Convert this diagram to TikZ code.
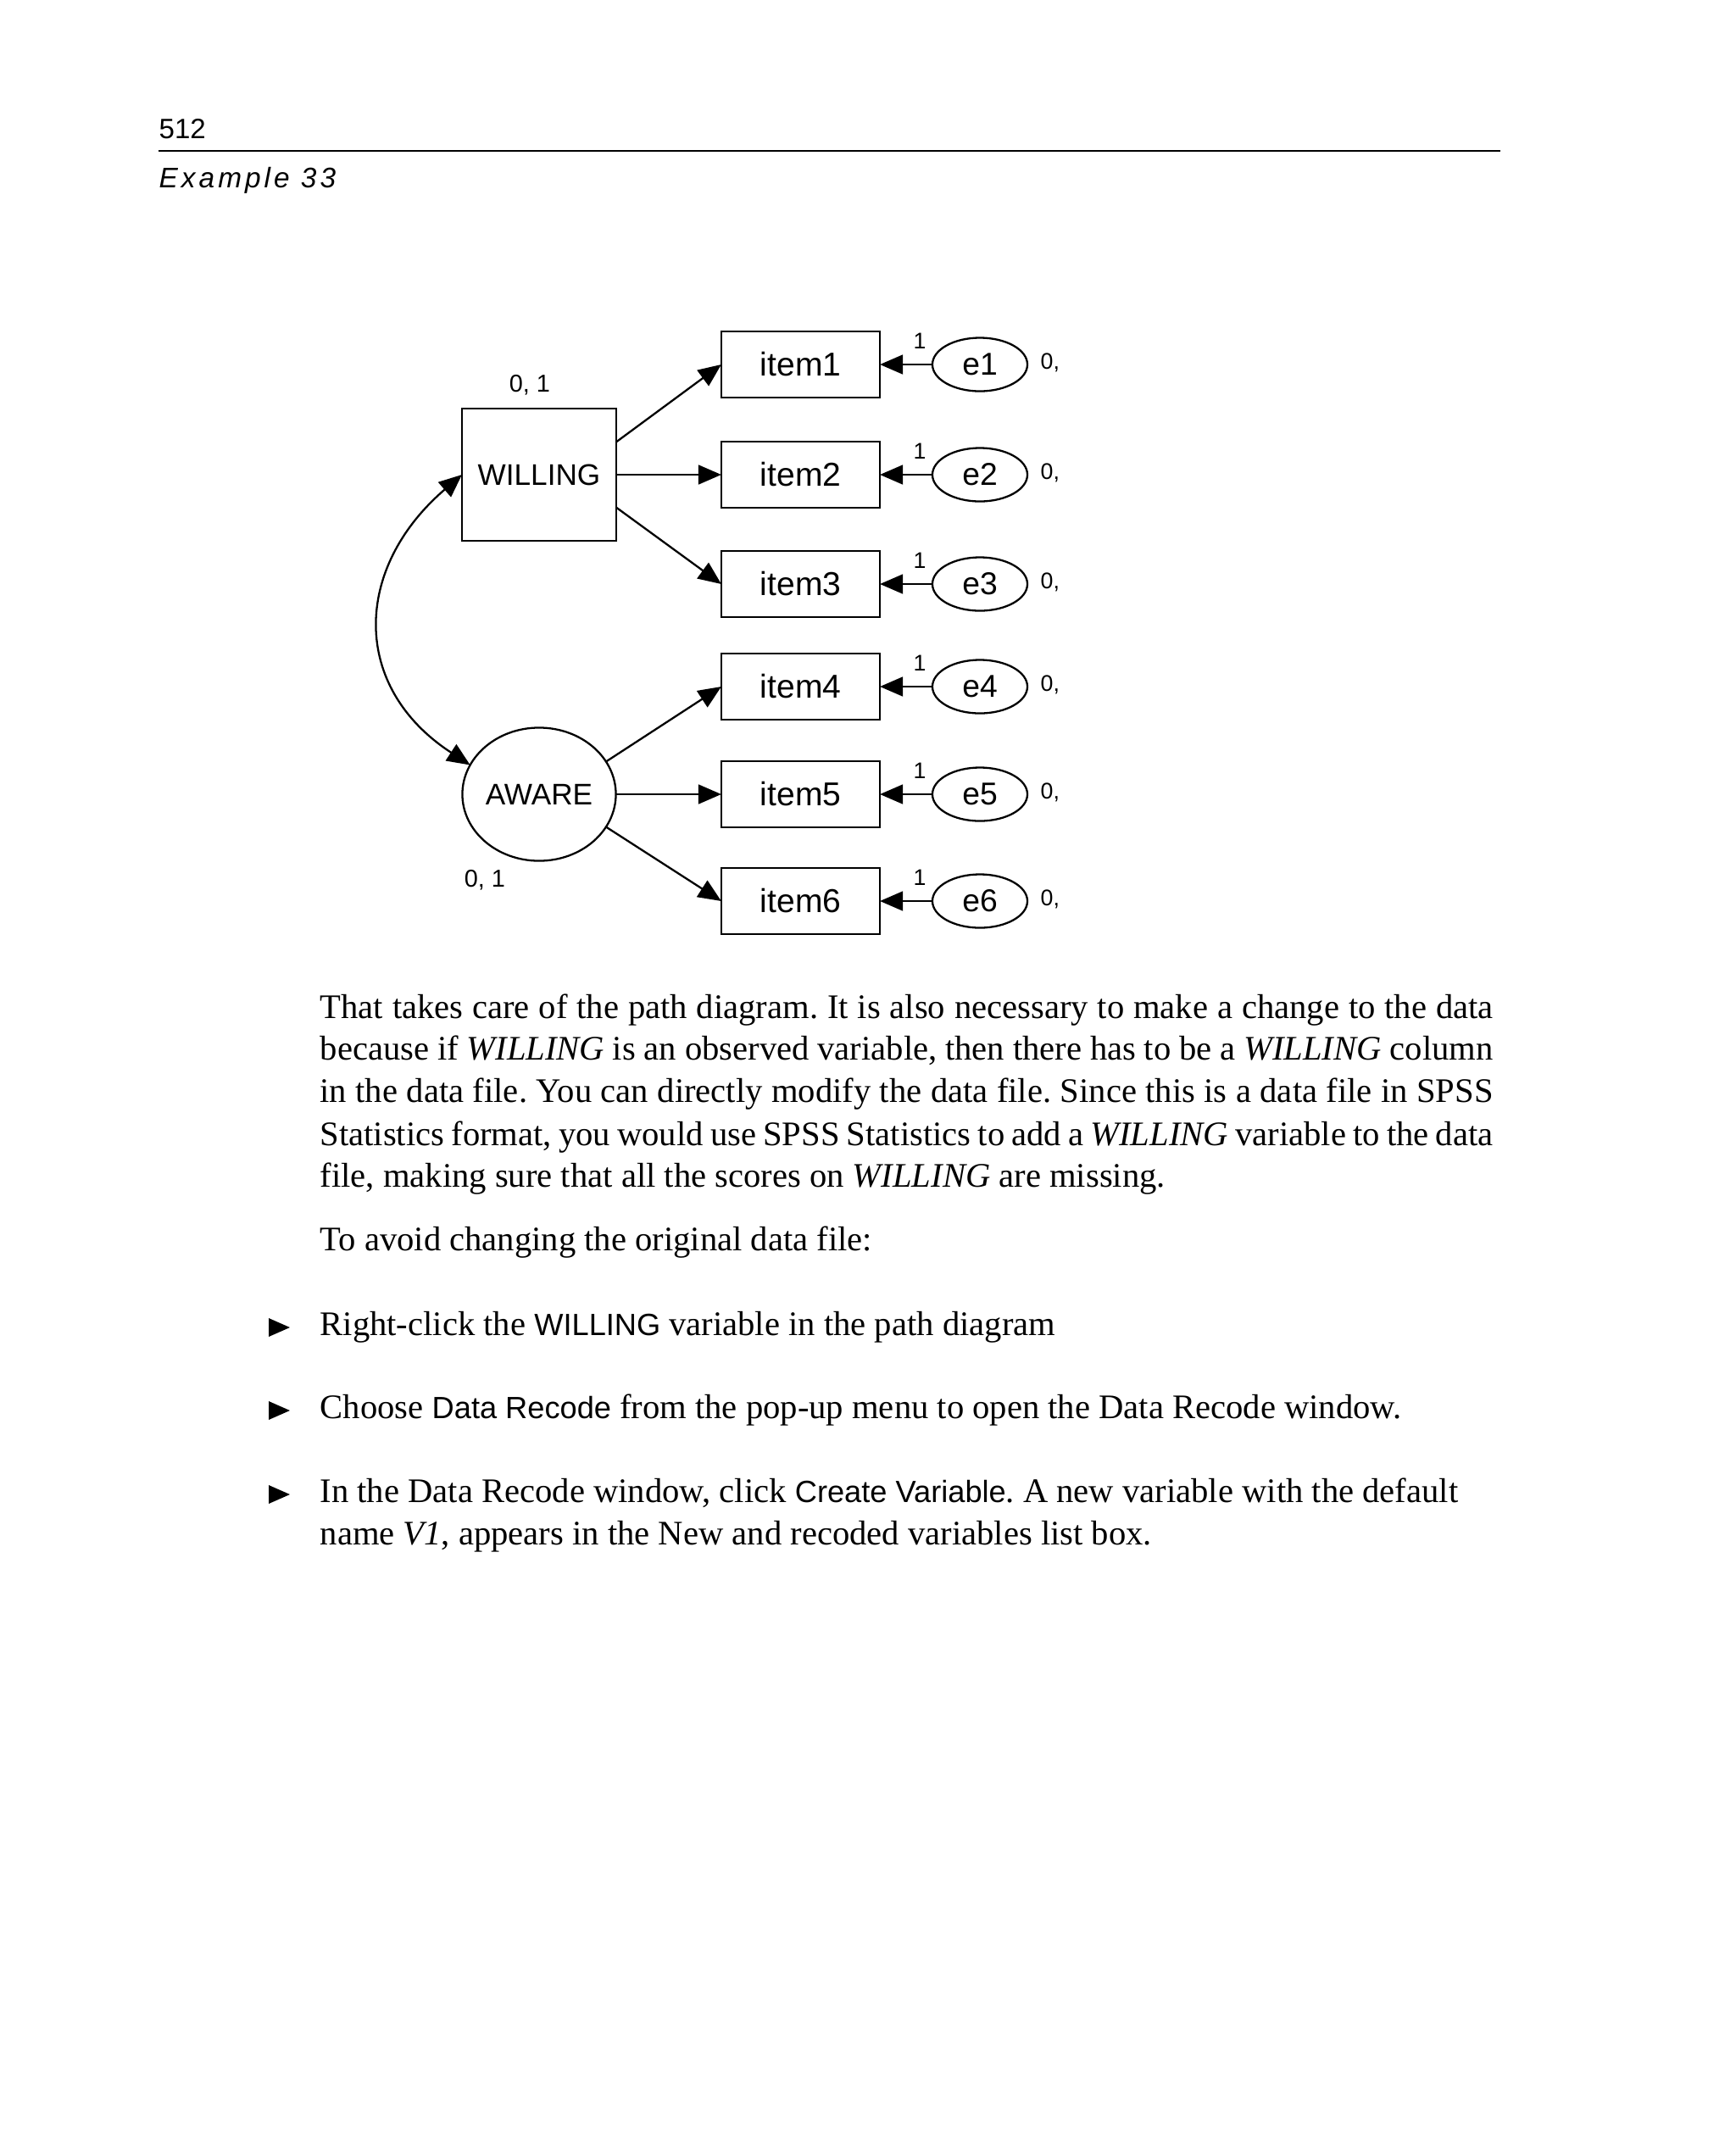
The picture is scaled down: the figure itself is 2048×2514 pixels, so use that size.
\documentclass[tikz,border=0pt]{standalone}
\usepackage{fontspec}
\setmainfont{Liberation Serif}
\setsansfont{Liberation Sans}
\newfontfamily\hdrfont[LetterSpace=12]{Liberation Sans}
\usetikzlibrary{arrows.meta,shapes.geometric}
\newcommand\myfs[1]{\fontsize{#1}{#1}\selectfont}
\newcommand\jline[1]{\hbox to 393.5pt{\spaceskip=0.25em plus 1em minus 0.1em\relax #1}}
\frenchspacing
\tikzset{
  obsbox/.style={draw, line width=0.75pt, rectangle, minimum width=1.87cm, minimum height=0.78cm,
    inner sep=0pt, outer sep=0pt, font=\sffamily\myfs{11.1pt}},
  willbox/.style={draw, line width=0.75pt, rectangle, minimum width=1.82cm, minimum height=1.56cm,
    inner sep=0pt, outer sep=0pt, font=\sffamily\myfs{10pt}},
  latent/.style={draw, ellipse, line width=0.65pt, minimum width=1.81cm, minimum height=1.57cm,
    inner sep=0pt, outer sep=0pt, font=\sffamily\myfs{10pt}},
  errnode/.style={draw, ellipse, line width=0.65pt, minimum width=1.12cm, minimum height=0.63cm,
    inner sep=0pt, outer sep=0pt, font=\sffamily\myfs{10.6pt}},
  conn/.style={line width=0.65pt, -{Triangle[length=7.7pt,width=6.5pt]}},
  dconn/.style={line width=0.65pt, {Triangle[length=7.7pt,width=6.5pt]}-{Triangle[length=7.7pt,width=6.5pt]}},
  lbl/.style={inner sep=0pt, font=\sffamily\myfs{7.6pt}},
  parlbl/.style={inner sep=0pt, anchor=base, font=\sffamily\myfs{8.2pt}},
  body/.style={anchor=base west, inner sep=0pt, font=\frenchspacing\myfs{11.55pt}},
  bullet/.style={fill=black, draw=none},
}
\newcommand\sfw[1]{{\sffamily\myfs{10.3pt}#1}}
\begin{document}
\begin{tikzpicture}[x=0.01cm, y=-0.01cm]
\useasboundingbox (0,0) rectangle (2048,2514);
\fill[white] (0,0) rectangle (2048,2514);

% header
\node[anchor=base west, inner sep=0pt, font=\sffamily\myfs{9.4pt}] (pg) at (187,163) {512};
\draw[line width=0.5pt] (187,178) -- (1770,178);
\node[anchor=base west, inner sep=0pt, font=\hdrfont\itshape\myfs{9.5pt}] (chap) at (187,221) {Example 33};

% diagram
\node[willbox] (WILLING) at (636,560) {WILLING};
\node[latent] (AWARE) at (636,937) {AWARE};
\node[parlbl] (wpar) at (625,462) {0, 1};
\node[parlbl] (apar) at (572,1046) {0, 1};

\foreach \i/\yy in {1/430,2/560,3/689,4/810,5/937,6/1063}{
  \node[obsbox] (item\i) at (944.5,\yy) {item\i};
  \node[errnode] (e\i) at (1156,\yy) {e\i};
  \node[lbl, anchor=base] (one\i) at (1085,\yy-19) {1};
  \node[lbl, anchor=base west] (zero\i) at (1227,\yy+5) {0,};
  \draw[conn] (e\i.west) -- (item\i.east);
}

\draw[conn] (WILLING.23.7) -- (item1.west);
\draw[conn] (WILLING.east) -- (item2.west);
\draw[conn] (WILLING.-23.7) -- (item3.west);
\draw[conn] (AWARE.26) -- (item4.west);
\draw[conn] (AWARE.east) -- (item5.west);
\draw[conn] (AWARE.-26) -- (item6.west);
\draw[dconn] (WILLING.west) .. controls (417,670) and (413,810) .. (AWARE.157);

% body text
\node[body] (l1) at (377,1201) {\jline{That takes care of the path diagram. It is also necessary to make a change to the data}};
\node[body] (l2) at (377,1250) {\jline{because if \textit{WILLING} is an observed variable, then there has to be a \textit{WILLING} column}};
\node[body] (l3) at (377,1300) {\jline{in the data file. You can directly modify the data file. Since this is a data file in SPSS}};
\node[body] (l4) at (377,1351) {\jline{Statistics format, you would use SPSS Statistics to add a \textit{WILLING} variable to the data}};
\node[body] (l5) at (377,1400) {file, making sure that all the scores on \textit{WILLING} are missing.};
\node[body] (l6) at (377,1475) {To avoid changing the original data file:};

\fill[bullet] (317,1555) -- (342,1566) -- (317,1577) -- cycle;
\node[body] (b1) at (377,1575) {Right-click the \sfw{WILLING} variable in the path diagram};
\fill[bullet] (317,1653) -- (342,1664) -- (317,1675) -- cycle;
\node[body] (b2) at (377,1673) {Choose \sfw{Data Recode} from the pop-up menu to open the Data Recode window.};
\fill[bullet] (317,1752) -- (342,1763) -- (317,1774) -- cycle;
\node[body] (b3) at (377,1772) {In the Data Recode window, click \sfw{Create Variable}. A new variable with the default};
\node[body] (b4) at (377,1822) {name \textit{V1}, appears in the New and recoded variables list box.};
\end{tikzpicture}
\end{document}
